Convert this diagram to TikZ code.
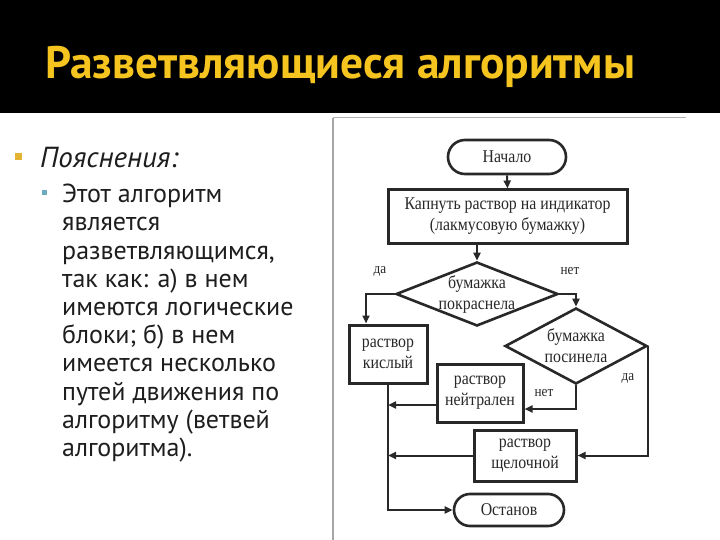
\documentclass[tikz,border=0pt]{standalone}
\usepackage{fontspec}
\setmainfont{PT Sans}
\newfontfamily\fcfont[FakeStretch=0.88]{Liberation Serif}
\usetikzlibrary{arrows.meta,shapes.geometric,shapes.misc,calc}
\definecolor{titlegold}{RGB}{245,196,30}
\definecolor{bulletgold}{RGB}{226,180,50}
\definecolor{bulletteal}{RGB}{110,170,190}
\definecolor{ink}{RGB}{40,40,40}
\definecolor{txt}{RGB}{30,30,30}
\tikzset{
  fc/.style={font=\fcfont\fontsize{18}{21}\selectfont, text=ink, align=center, inner sep=0pt},
  procbox/.style={fc, draw=ink, line width=3pt, rectangle},
  termbox/.style={fc, draw=ink, line width=2.6pt, rounded rectangle},
  decbox/.style={draw=ink, line width=2.6pt, diamond, inner sep=0pt},
  arr/.style={draw=ink, line width=2pt, -{Triangle[length=8pt,width=7pt]}},
  lbl/.style={font=\fcfont\fontsize{15}{18}\selectfont, text=ink, inner sep=0pt}
}
\begin{document}
\begin{tikzpicture}[x=1pt,y=-1pt]
\useasboundingbox (0,0) rectangle (720,540);
\fill[white] (0,0) rectangle (720,540);
\fill[black] (0,0) rectangle (720,113);
\node[anchor=west, text=titlegold, font=\bfseries\fontsize{45.5}{50}\selectfont, inner sep=0pt] (title) at (45,67) {Разветвляющиеся алгоритмы};
% bullets
\fill[bulletgold] (15,153) rectangle (22,160);
\node[anchor=west, text=txt, font=\itshape\fontsize{29}{32}\selectfont, inner sep=0pt] (poyasn) at (40,158) {Пояснения:};
\fill[bulletteal] (42,190) rectangle (47,195);
\node[anchor=north west, text=txt, align=left, font=\fontsize{26}{28.2}\selectfont, inner sep=0pt] (body) at (62,184)
{Этот алгоритм\\является\\разветвляющимся,\\так как: а) в нем\\имеются логические\\блоки; б) в нем\\имеется несколько\\путей движения по\\алгоритму (ветвей\\алгоритма).};
% frame
\draw[gray!70, line width=1.6pt] (333,118) -- (333,540);
\draw[gray!60, line width=1pt] (333,118) -- (686,118);
% flowchart nodes
\node[termbox, minimum width=118pt, minimum height=34pt] (start) at (507,157) {Начало};
\node[procbox, minimum width=239pt, minimum height=53pt] (drop) at (507.5,216.5) {Капнуть раствор на индикатор\\(лакмусовую бумажку)};
\node[decbox, minimum width=162pt, minimum height=64pt, label={[fc]center:{бумажка\\покраснела}}] (d1) at (477,294) {};
\node[decbox, minimum width=142pt, minimum height=76pt, label={[fc]center:{бумажка\\посинела}}] (d2) at (576,346) {};
\node[procbox, minimum width=78pt, minimum height=58pt] (kisl) at (388,354) {раствор\\кислый};
\node[procbox, minimum width=86pt, minimum height=58pt] (neit) at (480,393) {раствор\\нейтрален};
\node[procbox, minimum width=102pt, minimum height=51pt] (shch) at (525,455.5) {раствор\\щелочной};
\node[termbox, minimum width=110pt, minimum height=32pt] (stop) at (509,510) {Останов};
% labels
\node[lbl] (l1) at (380,271) {да};
\node[lbl] (l2) at (570,271) {нет};
\node[lbl] (l3) at (628,378) {да};
\node[lbl] (l4) at (544,393) {нет};
% connectors
\draw[arr] (start.south) -- (drop.north);
\draw[arr] (drop.south -| d1.north) -- (d1.north);
\coordinate (kin) at ($(kisl.north)+(-22,0)$);
\draw[arr] (d1.west) -| (kin);
\draw[arr] (d1.east) -| (d2.north);
\coordinate (nin) at ($(neit.east)+(0,16)$);
\draw[arr] (d2.south) |- (nin);
\draw[arr] (d2.east) |- (shch.east);
\draw[arr] (kisl.south) |- (stop.west);
\coordinate (nout) at ($(neit.west)+(0,12)$);
\draw[arr] (nout) -- (nout -| kisl.south);
\draw[arr] (shch.west) -- (shch.west -| kisl.south);
\end{tikzpicture}
\end{document}
